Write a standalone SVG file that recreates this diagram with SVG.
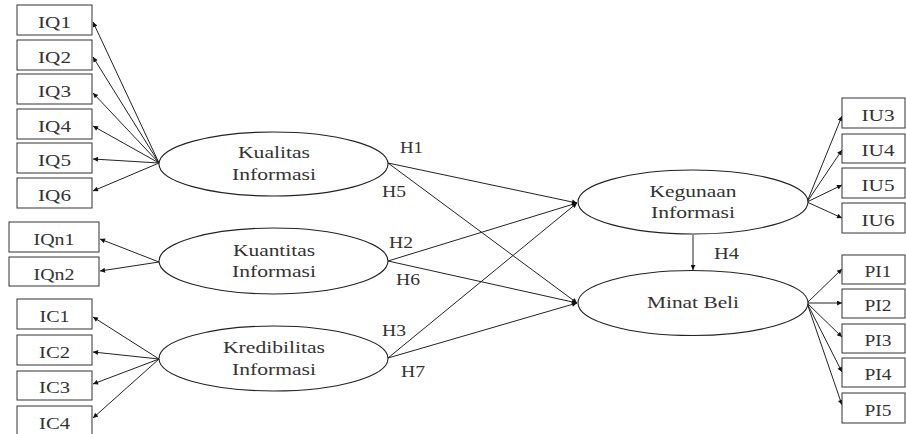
<svg xmlns="http://www.w3.org/2000/svg" width="906" height="434" viewBox="0 0 906 434">
<style>
text{font-family:"Liberation Serif","Times New Roman",serif;font-size:17px;fill:#333;}
.box rect{fill:#fff;stroke:#333;stroke-width:1;}
.box text{text-anchor:middle;}
.lat ellipse{fill:#fff;stroke:#222;stroke-width:1.1;}
.lat text{text-anchor:middle;}
#connectors line{stroke:#222;stroke-width:1;marker-end:url(#ah);}
.hl{font-size:17px;}
</style>
<defs>
<marker id="ah" viewBox="0 0 10 10" refX="10" refY="5" markerWidth="7" markerHeight="5" orient="auto" markerUnits="userSpaceOnUse">
<path d="M0,0 L10,5 L0,10 z" fill="#111"/>
</marker>
</defs>
<rect width="906" height="434" fill="#fff"/>

<g id="connectors">
<line x1="159" y1="163" x2="93" y2="22"/>
<line x1="159" y1="163" x2="93" y2="57"/>
<line x1="159" y1="163" x2="93" y2="93"/>
<line x1="159" y1="163" x2="93" y2="126"/>
<line x1="159" y1="163" x2="93" y2="159"/>
<line x1="159" y1="163" x2="93" y2="191"/>
<line x1="159" y1="262" x2="100" y2="239"/>
<line x1="159" y1="262" x2="100" y2="271"/>
<line x1="159" y1="359" x2="93" y2="317"/>
<line x1="159" y1="359" x2="93" y2="352"/>
<line x1="159" y1="359" x2="93" y2="384"/>
<line x1="159" y1="359" x2="93" y2="418"/>
<line x1="388" y1="163" x2="577" y2="203"/>
<line x1="388" y1="163" x2="577" y2="303"/>
<line x1="388" y1="261" x2="577" y2="203"/>
<line x1="388" y1="261" x2="577" y2="303"/>
<line x1="388" y1="358" x2="577" y2="203"/>
<line x1="388" y1="358" x2="577" y2="303"/>
<line x1="693" y1="235" x2="693" y2="270"/>
<line x1="807" y1="202" x2="842" y2="116"/>
<line x1="807" y1="202" x2="842" y2="150"/>
<line x1="807" y1="202" x2="842" y2="185"/>
<line x1="807" y1="202" x2="842" y2="218"/>
<line x1="807" y1="303" x2="842" y2="269"/>
<line x1="807" y1="303" x2="842" y2="303"/>
<line x1="807" y1="303" x2="842" y2="337"/>
<line x1="807" y1="303" x2="842" y2="372"/>
<line x1="807" y1="303" x2="842" y2="405"/>
</g>

<g id="IQ1" class="box"><rect x="17" y="5" width="75" height="30"/><text x="54.5" y="28" textLength="33" lengthAdjust="spacingAndGlyphs">IQ1</text></g>
<g id="IQ2" class="box"><rect x="17" y="40" width="75" height="30"/><text x="54.5" y="63" textLength="33" lengthAdjust="spacingAndGlyphs">IQ2</text></g>
<g id="IQ3" class="box"><rect x="17" y="74" width="75" height="30"/><text x="54.5" y="97" textLength="33" lengthAdjust="spacingAndGlyphs">IQ3</text></g>
<g id="IQ4" class="box"><rect x="17" y="109" width="75" height="30"/><text x="54.5" y="132" textLength="33" lengthAdjust="spacingAndGlyphs">IQ4</text></g>
<g id="IQ5" class="box"><rect x="17" y="143" width="75" height="30"/><text x="54.5" y="166" textLength="33" lengthAdjust="spacingAndGlyphs">IQ5</text></g>
<g id="IQ6" class="box"><rect x="17" y="178" width="75" height="30"/><text x="54.5" y="201" textLength="33" lengthAdjust="spacingAndGlyphs">IQ6</text></g>

<g id="IQn1" class="box"><rect x="9" y="222" width="90" height="30"/><text x="54" y="245" textLength="41" lengthAdjust="spacingAndGlyphs">IQn1</text></g>
<g id="IQn2" class="box"><rect x="9" y="257" width="90" height="29"/><text x="54" y="280" textLength="41" lengthAdjust="spacingAndGlyphs">IQn2</text></g>

<g id="IC1" class="box"><rect x="17" y="299" width="75" height="30"/><text x="54.5" y="322" textLength="30" lengthAdjust="spacingAndGlyphs">IC1</text></g>
<g id="IC2" class="box"><rect x="17" y="335" width="75" height="30"/><text x="54.5" y="358" textLength="31" lengthAdjust="spacingAndGlyphs">IC2</text></g>
<g id="IC3" class="box"><rect x="17" y="371" width="75" height="29"/><text x="54.5" y="393" textLength="31" lengthAdjust="spacingAndGlyphs">IC3</text></g>
<g id="IC4" class="box"><rect x="17" y="406" width="75" height="30"/><text x="54.5" y="429" textLength="31" lengthAdjust="spacingAndGlyphs">IC4</text></g>

<g id="IU3" class="box"><rect x="842" y="98" width="63" height="30"/><text x="878" y="121" textLength="33" lengthAdjust="spacingAndGlyphs">IU3</text></g>
<g id="IU4" class="box"><rect x="842" y="134" width="63" height="29"/><text x="878" y="156" textLength="33" lengthAdjust="spacingAndGlyphs">IU4</text></g>
<g id="IU5" class="box"><rect x="842" y="168" width="63" height="30"/><text x="878" y="191" textLength="33" lengthAdjust="spacingAndGlyphs">IU5</text></g>
<g id="IU6" class="box"><rect x="842" y="203" width="63" height="30"/><text x="878" y="226" textLength="33" lengthAdjust="spacingAndGlyphs">IU6</text></g>

<g id="PI1" class="box"><rect x="842" y="255" width="63" height="29"/><text x="878" y="277" textLength="27" lengthAdjust="spacingAndGlyphs">PI1</text></g>
<g id="PI2" class="box"><rect x="842" y="289" width="63" height="29"/><text x="878" y="311" textLength="27" lengthAdjust="spacingAndGlyphs">PI2</text></g>
<g id="PI3" class="box"><rect x="842" y="324" width="63" height="29"/><text x="878" y="346" textLength="27" lengthAdjust="spacingAndGlyphs">PI3</text></g>
<g id="PI4" class="box"><rect x="842" y="358" width="63" height="29"/><text x="878" y="380" textLength="27" lengthAdjust="spacingAndGlyphs">PI4</text></g>
<g id="PI5" class="box"><rect x="842" y="393" width="63" height="30"/><text x="878" y="416" textLength="27" lengthAdjust="spacingAndGlyphs">PI5</text></g>

<g id="kualitas" class="lat"><ellipse cx="273.5" cy="164" rx="114.5" ry="32"/>
<text x="274" y="158" textLength="72" lengthAdjust="spacingAndGlyphs">Kualitas</text>
<text x="274" y="180" textLength="84" lengthAdjust="spacingAndGlyphs">Informasi</text></g>
<g id="kuantitas" class="lat"><ellipse cx="273.5" cy="261" rx="114.5" ry="33"/>
<text x="274" y="256" textLength="82" lengthAdjust="spacingAndGlyphs">Kuantitas</text>
<text x="274" y="277" textLength="84" lengthAdjust="spacingAndGlyphs">Informasi</text></g>
<g id="kredibilitas" class="lat"><ellipse cx="273.5" cy="358.5" rx="114.5" ry="32.5"/>
<text x="274" y="353" textLength="102" lengthAdjust="spacingAndGlyphs">Kredibilitas</text>
<text x="274" y="375" textLength="84" lengthAdjust="spacingAndGlyphs">Informasi</text></g>
<g id="kegunaan" class="lat"><ellipse cx="693" cy="202" rx="115" ry="32"/>
<text x="693" y="197" textLength="87" lengthAdjust="spacingAndGlyphs">Kegunaan</text>
<text x="693" y="218" textLength="84" lengthAdjust="spacingAndGlyphs">Informasi</text></g>
<g id="minat" class="lat"><ellipse cx="693" cy="303" rx="115" ry="32.5"/>
<text x="693" y="308" textLength="92" lengthAdjust="spacingAndGlyphs">Minat Beli</text></g>

<g id="labels">
<text class="hl" x="400" y="153" textLength="23" lengthAdjust="spacingAndGlyphs">H1</text>
<text class="hl" x="382" y="197" textLength="24" lengthAdjust="spacingAndGlyphs">H5</text>
<text class="hl" x="389" y="248" textLength="24" lengthAdjust="spacingAndGlyphs">H2</text>
<text class="hl" x="396" y="285" textLength="24" lengthAdjust="spacingAndGlyphs">H6</text>
<text class="hl" x="382" y="336" textLength="24" lengthAdjust="spacingAndGlyphs">H3</text>
<text class="hl" x="401" y="377" textLength="24" lengthAdjust="spacingAndGlyphs">H7</text>
<text class="hl" x="714" y="259" textLength="25" lengthAdjust="spacingAndGlyphs">H4</text>
</g>
</svg>
